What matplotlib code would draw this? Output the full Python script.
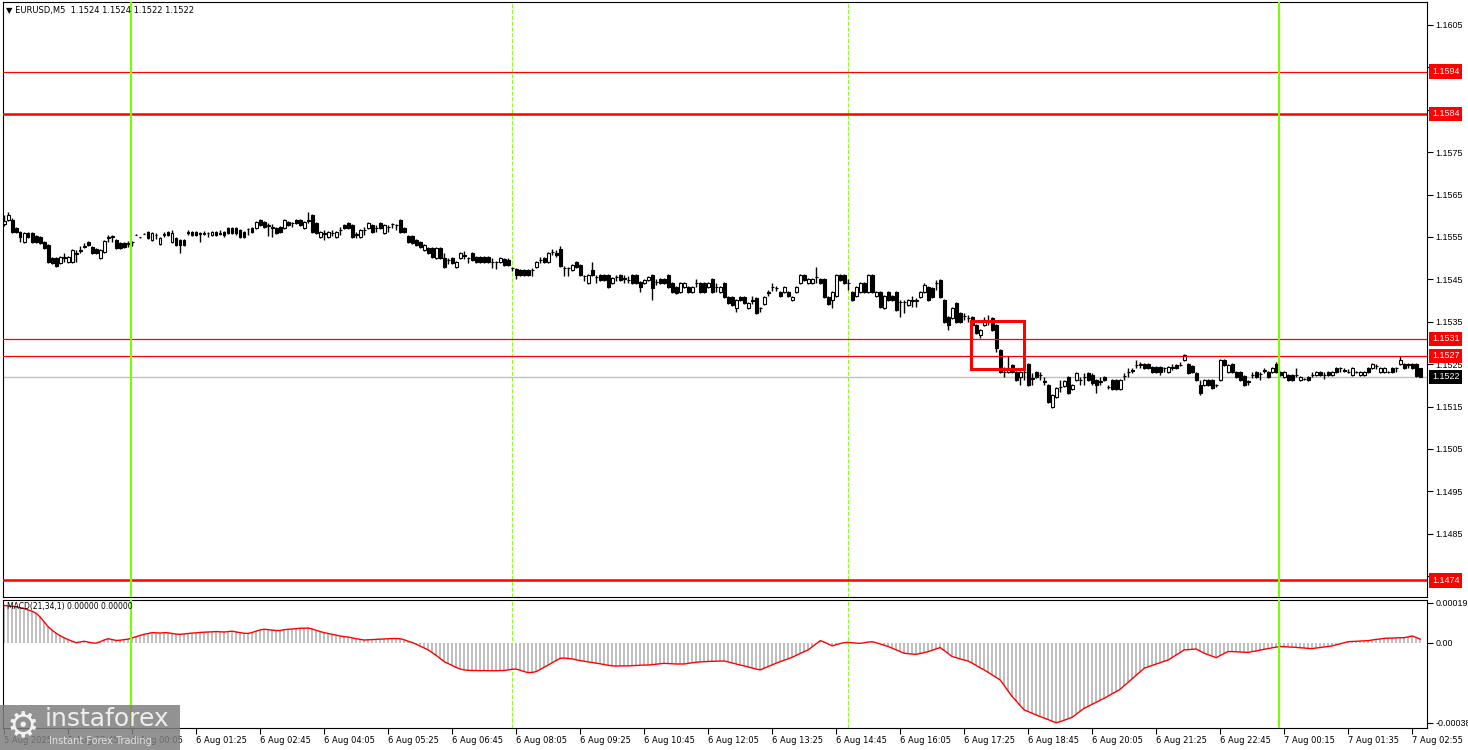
import numpy as np
import matplotlib.pyplot as plt
from matplotlib.patches import Rectangle

# EURUSD M5 bars, prices as pips above 1.1500
open_pips = [
    58.1, 59.0, 59.0, 57.1, 56.2, 53.8, 56.0, 56.0, 55.2, 55.0,
    53.8, 53.1, 50.1, 50.1, 48.9, 50.1, 49.2, 49.2, 51.2, 51.7,
    52.6, 53.8, 52.6, 52.2, 50.1, 51.5, 54.8, 55.0, 54.3, 53.6,
    53.6, 53.4, 53.8, 55.5, 54.9, 55.8, 56.2, 54.3, 55.5, 53.4,
    55.5, 56.2, 53.8, 54.8, 54.3, 54.3, 56.0, 56.2, 56.2, 56.0,
    55.8, 56.0, 55.5, 56.2, 55.8, 56.2, 57.1, 57.1, 57.1, 56.7,
    56.2, 56.9, 57.1, 57.1, 59.0, 58.5, 57.6, 57.4, 57.1, 57.4,
    57.1, 58.5, 58.3, 59.0, 59.0, 57.1, 58.8, 60.2, 58.3, 55.0,
    56.0, 55.0, 56.0, 55.0, 56.7, 57.8, 58.3, 57.8, 55.5, 55.0,
    56.7, 57.1, 57.8, 57.1, 58.3, 56.0, 57.4, 58.1, 57.8, 59.0,
    57.1, 55.2, 55.2, 54.3, 53.8, 51.9, 52.4, 52.4, 50.1, 52.4,
    50.1, 49.6, 50.1, 48.0, 50.1, 50.8, 50.1, 51.2, 50.3, 50.3,
    50.3, 50.3, 49.2, 49.2, 49.2, 49.8, 49.6, 47.7, 47.5, 47.2,
    47.2, 47.2, 47.2, 48.0, 49.6, 50.1, 49.2, 51.5, 51.2, 52.2,
    47.7, 47.7, 47.2, 49.2, 48.4, 45.8, 44.2, 47.2, 45.6, 46.0,
    46.0, 46.0, 44.2, 45.6, 46.0, 45.3, 44.9, 46.0, 46.0, 44.4,
    44.2, 44.9, 46.0, 44.4, 45.1, 45.1, 46.0, 44.2, 43.2, 42.0,
    43.2, 43.2, 42.0, 44.2, 44.2, 44.2, 43.2, 45.1, 43.2, 42.0,
    44.2, 40.8, 40.8, 38.3, 40.8, 40.8, 38.3, 40.1, 40.6, 38.3,
    39.2, 42.0, 43.2, 43.0, 42.0, 42.0, 42.0, 40.1, 42.0, 44.2,
    46.0, 44.2, 44.2, 45.6, 45.1, 45.1, 40.8, 40.1, 41.1, 46.0,
    46.0, 44.2, 42.0, 41.1, 42.0, 44.2, 42.0, 46.0, 41.1, 42.0,
    38.3, 42.0, 41.1, 42.0, 39.7, 39.7, 39.0, 40.1, 40.1, 40.8,
    42.0, 43.2, 43.0, 44.2, 44.9, 40.1, 36.1, 35.9, 39.4, 37.1,
    36.4, 35.9, 36.1, 34.2, 31.9, 34.2, 35.4, 35.9, 34.2, 28.3,
    23.2, 23.2, 24.8, 23.2, 22.0, 23.2, 25.0, 21.7, 23.2, 22.5,
    21.0, 20.1, 14.9, 17.3, 19.7, 19.9, 22.0, 19.2, 21.3, 21.3,
    22.0, 22.9, 22.5, 21.3, 21.0, 22.0, 19.7, 21.3, 21.3, 19.2,
    22.2, 23.2, 23.6, 24.8, 24.8, 25.0, 25.0, 24.3, 24.3, 24.3,
    24.1, 23.2, 24.3, 24.8, 24.8, 26.0, 25.0, 24.6, 22.9, 20.1,
    20.1, 21.3, 21.3, 20.1, 21.3, 26.0, 23.2, 25.0, 23.2, 23.2,
    22.2, 21.0, 22.5, 23.2, 22.7, 23.6, 23.2, 23.2, 25.0, 23.2,
    22.0, 22.5, 22.5, 22.5, 21.3, 21.5, 22.0, 22.5, 22.5, 23.2,
    22.5, 23.2, 22.5, 24.1, 24.1, 23.6, 23.2, 22.5, 23.2, 22.5,
    22.5, 24.1, 24.1, 24.6, 23.2, 23.2, 23.2, 24.1, 24.1, 25.0,
    25.0, 25.0, 25.0, 25.0, 24.0,
]
high_pips = [
    60.2, 60.9, 59.5, 57.4, 56.4, 56.2, 56.2, 56.2, 55.5, 55.2,
    54.1, 53.4, 50.3, 50.3, 50.6, 51.2, 50.6, 52.2, 51.9, 52.9,
    53.6, 54.1, 52.9, 52.4, 52.2, 54.3, 55.5, 55.5, 54.5, 53.8,
    53.8, 54.1, 54.1, 55.6, 55.0, 55.9, 56.4, 56.2, 56.0, 55.0,
    56.2, 56.4, 56.7, 55.0, 54.5, 54.5, 56.7, 56.4, 56.4, 56.2,
    56.4, 56.2, 56.4, 56.4, 56.7, 56.4, 57.4, 57.4, 57.4, 56.9,
    56.4, 57.1, 57.4, 58.8, 59.3, 58.8, 58.3, 58.1, 57.4, 57.6,
    59.3, 58.8, 58.5, 59.3, 59.3, 58.8, 60.9, 60.4, 58.5, 56.4,
    56.7, 56.4, 56.7, 56.4, 57.4, 58.1, 58.5, 58.1, 56.2, 56.9,
    57.4, 58.5, 58.1, 57.8, 58.5, 58.1, 57.8, 58.3, 58.1, 59.3,
    57.4, 55.5, 55.5, 54.5, 54.1, 53.4, 52.6, 52.6, 52.6, 52.6,
    51.2, 50.1, 50.3, 49.4, 51.5, 51.7, 50.3, 51.5, 50.6, 50.6,
    50.6, 50.6, 50.1, 49.4, 50.3, 50.1, 50.1, 48.0, 47.7, 47.5,
    47.5, 47.5, 47.7, 49.4, 50.3, 50.3, 51.5, 52.2, 51.9, 52.9,
    48.2, 48.0, 48.7, 49.4, 48.7, 46.0, 46.2, 49.2, 46.0, 46.2,
    46.2, 46.2, 45.6, 46.0, 46.2, 46.0, 45.8, 46.2, 46.2, 44.7,
    45.1, 45.8, 46.2, 45.1, 45.3, 45.3, 46.2, 44.4, 43.5, 44.4,
    44.4, 43.5, 43.5, 45.1, 44.4, 44.4, 44.4, 45.3, 44.2, 43.5,
    44.4, 41.1, 41.1, 40.4, 41.1, 41.1, 39.7, 41.1, 40.8, 38.5,
    41.1, 42.5, 44.2, 43.5, 42.3, 43.5, 42.3, 41.1, 43.5, 46.2,
    46.2, 45.3, 45.3, 48.0, 45.3, 45.3, 41.1, 42.3, 46.2, 46.2,
    46.2, 45.1, 42.3, 43.5, 44.4, 44.4, 46.2, 46.2, 42.3, 42.3,
    41.3, 42.3, 41.3, 42.3, 40.1, 40.1, 40.4, 41.1, 40.6, 42.3,
    44.2, 43.5, 43.2, 44.9, 45.1, 40.4, 36.4, 38.5, 39.7, 37.3,
    37.1, 36.6, 36.4, 34.4, 33.3, 36.1, 36.6, 36.1, 34.4, 28.5,
    24.3, 26.9, 25.0, 23.4, 23.4, 24.8, 25.2, 22.9, 23.4, 23.2,
    22.0, 20.4, 17.9, 19.7, 21.3, 21.3, 22.3, 20.4, 23.2, 22.0,
    22.9, 23.2, 22.9, 21.5, 22.0, 22.3, 20.1, 21.5, 21.5, 21.5,
    22.9, 24.1, 24.1, 26.0, 25.5, 25.2, 25.2, 24.6, 24.6, 24.6,
    24.3, 24.6, 25.0, 25.0, 25.5, 27.4, 25.2, 24.8, 23.2, 21.3,
    21.5, 21.5, 21.5, 20.4, 26.2, 26.2, 25.0, 25.2, 23.4, 23.4,
    22.5, 21.3, 23.2, 23.4, 23.2, 24.1, 23.4, 24.3, 25.5, 23.4,
    23.4, 22.7, 22.7, 24.1, 22.3, 21.7, 22.3, 23.2, 23.4, 23.4,
    23.2, 23.4, 23.4, 24.3, 24.3, 24.1, 23.8, 24.3, 23.4, 23.4,
    23.4, 24.3, 25.2, 25.0, 24.3, 24.3, 23.4, 24.3, 24.3, 26.9,
    25.2, 25.2, 25.2, 25.2, 24.0,
]
low_pips = [
    57.6, 58.8, 56.0, 56.0, 53.8, 53.6, 54.8, 53.6, 53.6, 53.4,
    52.2, 48.9, 48.7, 48.0, 48.7, 49.2, 48.9, 48.9, 49.2, 51.2,
    52.4, 52.9, 51.0, 51.0, 49.8, 51.2, 53.8, 53.8, 52.2, 52.2,
    52.4, 52.6, 52.9, 55.4, 54.8, 55.7, 54.5, 54.1, 54.5, 53.1,
    55.0, 55.2, 53.6, 52.9, 51.2, 52.9, 55.5, 55.2, 55.2, 53.8,
    55.5, 55.0, 55.2, 55.2, 55.5, 55.0, 55.8, 55.8, 55.5, 54.8,
    54.8, 55.5, 56.0, 56.9, 57.6, 57.1, 55.2, 55.0, 55.8, 56.0,
    56.9, 57.6, 57.4, 58.1, 57.6, 56.9, 58.3, 56.0, 55.8, 54.8,
    54.3, 54.8, 55.2, 54.8, 55.5, 56.9, 56.9, 54.8, 54.8, 54.8,
    55.5, 56.9, 56.0, 56.2, 56.9, 55.8, 56.2, 57.1, 56.7, 56.0,
    56.0, 53.6, 53.4, 52.9, 52.4, 51.7, 51.0, 50.1, 49.8, 49.8,
    47.7, 48.7, 48.7, 47.7, 49.8, 49.8, 48.9, 49.4, 48.9, 48.9,
    48.9, 48.9, 47.7, 47.5, 48.9, 48.2, 48.2, 47.0, 45.1, 45.8,
    45.8, 45.8, 45.8, 47.7, 48.9, 48.9, 48.9, 50.8, 50.3, 48.0,
    45.8, 45.8, 47.0, 47.7, 45.8, 44.7, 44.0, 45.8, 44.2, 44.7,
    44.7, 43.0, 44.0, 44.7, 44.7, 44.2, 44.2, 44.0, 44.0, 42.1,
    44.0, 44.7, 40.1, 43.7, 44.0, 44.0, 43.0, 41.8, 41.6, 41.8,
    43.0, 41.8, 41.8, 43.2, 41.8, 41.8, 43.0, 41.8, 42.0, 41.8,
    40.6, 39.2, 38.7, 37.3, 39.9, 39.2, 38.0, 39.2, 36.9, 37.3,
    39.0, 41.1, 42.3, 42.3, 40.8, 41.8, 40.8, 39.9, 41.8, 44.0,
    44.7, 44.0, 44.0, 44.2, 44.0, 40.6, 39.0, 38.3, 40.8, 44.7,
    44.0, 42.5, 39.9, 40.8, 41.8, 41.8, 41.8, 41.8, 40.8, 38.3,
    38.0, 39.9, 39.9, 37.6, 36.1, 37.1, 38.7, 38.5, 38.5, 40.6,
    41.8, 39.9, 40.6, 42.5, 40.6, 34.7, 33.1, 35.6, 34.7, 34.7,
    35.4, 35.0, 34.0, 32.1, 31.2, 34.0, 34.2, 32.9, 27.9, 23.0,
    22.0, 23.0, 23.0, 21.0, 20.1, 21.3, 19.9, 20.1, 21.7, 21.3,
    20.1, 15.9, 14.6, 17.1, 18.4, 19.7, 18.0, 19.0, 21.0, 20.1,
    20.1, 21.0, 20.1, 18.2, 20.1, 21.0, 19.2, 19.0, 19.0, 19.0,
    21.3, 22.0, 22.9, 24.1, 24.1, 23.8, 23.8, 23.0, 23.0, 22.5,
    23.2, 23.0, 23.6, 23.8, 24.6, 25.8, 22.7, 23.0, 21.0, 17.7,
    19.9, 19.9, 19.2, 19.7, 21.0, 24.6, 23.0, 23.0, 21.7, 21.0,
    19.9, 20.1, 21.7, 21.7, 21.3, 22.9, 21.7, 23.0, 23.0, 22.3,
    21.7, 21.0, 21.0, 22.0, 21.0, 21.3, 21.0, 22.0, 22.3, 22.3,
    21.5, 22.3, 22.3, 23.0, 23.2, 23.2, 23.0, 22.3, 23.0, 22.3,
    22.3, 23.0, 23.8, 23.8, 23.0, 23.0, 23.0, 23.0, 23.2, 24.8,
    23.8, 24.1, 23.8, 22.0, 22.0,
]
close_pips = [
    58.8, 60.2, 56.2, 56.2, 55.0, 56.0, 55.0, 53.8, 53.8, 53.6,
    52.4, 49.2, 48.9, 48.2, 50.3, 50.3, 50.3, 51.9, 51.0, 51.9,
    52.9, 53.1, 51.2, 51.2, 51.9, 54.1, 55.0, 55.2, 52.4, 52.4,
    52.6, 53.5, 53.9, 55.5, 54.9, 55.8, 54.8, 56.0, 55.4, 54.8,
    55.8, 55.5, 56.0, 53.1, 53.1, 53.1, 56.2, 55.5, 55.5, 55.8,
    56.0, 55.9, 56.2, 55.5, 56.0, 55.5, 56.0, 56.0, 56.0, 55.0,
    55.0, 56.8, 56.2, 58.5, 57.8, 57.4, 57.8, 57.1, 56.0, 56.2,
    59.0, 57.8, 58.2, 58.3, 57.8, 58.5, 59.0, 56.2, 56.0, 56.2,
    55.8, 56.2, 55.9, 56.2, 56.6, 57.1, 57.1, 55.0, 55.7, 56.7,
    56.6, 58.3, 56.2, 57.0, 57.1, 57.8, 57.3, 58.0, 57.7, 56.2,
    56.2, 53.8, 53.6, 53.1, 52.6, 53.1, 51.2, 50.3, 52.4, 50.1,
    48.0, 49.5, 48.9, 49.2, 51.2, 50.6, 50.0, 49.6, 49.2, 49.2,
    49.2, 49.2, 49.1, 49.1, 50.1, 48.4, 48.4, 47.6, 46.0, 46.0,
    46.0, 46.0, 47.1, 49.2, 49.5, 49.2, 51.2, 51.4, 50.8, 48.2,
    47.6, 47.6, 48.4, 48.0, 46.0, 45.7, 46.0, 46.0, 45.5, 44.9,
    44.9, 43.2, 45.3, 45.5, 44.9, 45.2, 44.8, 44.2, 44.2, 43.2,
    44.9, 45.6, 43.0, 44.3, 44.2, 44.2, 43.2, 42.0, 41.8, 44.2,
    44.2, 42.0, 43.2, 44.1, 42.0, 42.0, 44.2, 42.0, 43.1, 43.2,
    40.8, 39.4, 39.0, 40.1, 40.1, 39.4, 39.4, 40.0, 37.1, 38.2,
    40.8, 41.9, 43.1, 42.9, 41.1, 43.2, 41.1, 40.8, 43.2, 46.0,
    44.9, 45.1, 45.1, 45.5, 44.2, 40.8, 39.2, 42.0, 46.0, 44.9,
    44.2, 44.1, 40.1, 43.2, 44.2, 42.0, 46.0, 42.0, 42.0, 38.5,
    41.1, 40.1, 40.1, 37.8, 39.6, 39.6, 40.1, 40.0, 40.0, 42.0,
    43.7, 40.1, 40.8, 44.1, 40.8, 35.0, 34.2, 38.3, 35.0, 35.0,
    36.3, 35.8, 34.2, 32.4, 33.1, 35.4, 35.3, 33.1, 28.8, 23.2,
    23.1, 24.1, 23.2, 21.3, 23.2, 23.1, 20.1, 21.6, 22.0, 22.4,
    20.9, 16.1, 17.7, 19.4, 19.6, 21.0, 18.2, 20.1, 22.9, 21.2,
    21.9, 21.3, 20.6, 20.1, 20.9, 21.3, 19.6, 19.2, 19.2, 21.3,
    22.1, 23.1, 23.5, 24.7, 25.0, 24.1, 24.1, 23.2, 23.2, 23.2,
    24.0, 24.3, 24.2, 24.1, 24.7, 27.2, 22.9, 23.2, 21.3, 18.2,
    21.3, 20.1, 19.4, 20.0, 26.0, 24.8, 24.8, 23.2, 22.0, 21.3,
    20.1, 20.9, 22.4, 22.0, 22.6, 23.5, 22.0, 24.1, 23.2, 22.5,
    23.2, 21.3, 21.3, 22.4, 22.0, 21.4, 21.3, 22.4, 23.2, 22.5,
    22.4, 22.5, 23.2, 23.2, 24.0, 23.5, 23.1, 24.1, 23.1, 23.2,
    23.2, 23.2, 25.0, 24.5, 24.1, 24.1, 23.1, 23.2, 24.0, 26.0,
    24.1, 24.9, 24.1, 22.2, 22.0,
]
# MACD(21,34,1) main value per bar, in units of 1e-5
macd_e5 = [
    17.8, 17.6, 17.4, 17.1, 16.8, 16.3, 15.7, 15.0, 14.1, 12.3,
    10.0, 7.7, 6.0, 4.6, 3.4, 2.4, 1.6, 0.8, 0.1, 0.5,
    0.8, 0.4, 0.0, -0.1, 0.6, 1.4, 2.0, 1.6, 1.2, 1.3,
    1.6, 1.8, 2.4, 3.0, 3.6, 4.1, 4.5, 4.9, 4.8, 4.7,
    4.9, 4.8, 4.5, 4.2, 4.1, 4.3, 4.5, 4.7, 4.8, 5.0,
    5.1, 5.2, 5.3, 5.4, 5.3, 5.2, 5.4, 5.6, 5.2, 4.9,
    4.6, 4.5, 5.0, 5.6, 6.2, 6.5, 6.3, 6.1, 5.9, 5.9,
    6.3, 6.5, 6.6, 6.8, 7.0, 7.0, 7.1, 6.6, 6.0, 5.4,
    4.9, 4.5, 4.1, 3.7, 3.3, 3.0, 2.8, 2.4, 2.0, 1.7,
    1.4, 1.5, 1.6, 1.7, 1.8, 1.9, 2.0, 2.1, 2.1, 2.0,
    1.5, 0.8, 0.2, -0.6, -1.5, -2.4, -3.3, -4.6, -5.9, -7.4,
    -8.9, -9.8, -10.7, -11.6, -12.4, -12.8, -13.0, -13.1, -13.1, -13.2,
    -13.1, -13.2, -13.2, -13.2, -13.1, -13.1, -12.8, -12.5, -12.4, -13.0,
    -13.6, -14.1, -14.0, -13.6, -12.6, -11.5, -10.5, -9.4, -8.3, -7.3,
    -7.2, -7.4, -7.6, -8.0, -8.4, -8.7, -9.0, -9.3, -9.6, -9.9,
    -10.3, -10.6, -10.9, -11.0, -10.9, -10.9, -10.9, -10.8, -10.7, -10.6,
    -10.5, -10.5, -10.3, -10.1, -9.9, -9.7, -9.8, -9.9, -10.0, -10.0,
    -10.0, -9.7, -9.4, -9.2, -9.0, -8.9, -8.8, -8.7, -8.7, -8.6,
    -8.6, -9.0, -9.5, -10.0, -10.5, -10.9, -11.4, -11.9, -12.4, -12.8,
    -12.0, -11.2, -10.4, -9.6, -8.9, -8.2, -7.5, -6.8, -5.9, -5.0,
    -4.1, -3.3, -1.8, -0.4, 1.1, 0.4, -0.5, -1.4, -0.8, -0.3,
    0.1, 0.3, 0.1, -0.1, -0.2, 0.1, 0.4, 0.6, 0.1, -0.5,
    -1.1, -1.7, -2.5, -3.3, -4.1, -4.9, -5.1, -5.3, -5.4, -5.0,
    -4.6, -4.1, -3.5, -2.8, -2.2, -3.6, -5.0, -6.5, -7.0, -7.6,
    -8.1, -8.6, -9.6, -10.7, -11.8, -12.8, -14.0, -15.2, -16.4, -17.6,
    -20.2, -22.9, -25.5, -27.6, -29.7, -31.8, -32.6, -33.4, -34.2, -35.0,
    -35.7, -36.4, -37.2, -37.9, -37.4, -36.7, -36.0, -35.3, -33.9, -32.4,
    -31.0, -30.1, -29.1, -28.2, -27.2, -26.3, -25.2, -24.1, -23.1, -22.0,
    -20.3, -18.7, -17.0, -15.3, -13.7, -12.0, -11.3, -10.7, -10.0, -9.4,
    -8.7, -8.1, -6.9, -5.7, -4.5, -3.3, -3.2, -3.0, -2.9, -3.9,
    -4.9, -5.6, -6.3, -7.0, -6.0, -5.0, -4.1, -4.1, -4.2, -4.3,
    -4.4, -4.5, -4.1, -3.8, -3.4, -3.0, -2.7, -2.3, -2.0, -1.7,
    -1.8, -1.9, -2.0, -2.1, -2.3, -2.4, -2.6, -2.7, -2.4, -2.2,
    -1.9, -1.7, -1.4, -0.9, -0.4, 0.1, 0.6, 0.7, 0.8, 0.9,
    1.0, 1.1, 1.4, 1.7, 1.9, 2.2, 2.3, 2.3, 2.4, 2.5,
    2.5, 2.9, 3.3, 2.6, 1.8,
]

time_labels = ["5 Aug 2025", "5 Aug 22:45", "6 Aug 00:05", "6 Aug 01:25", "6 Aug 02:45",
               "6 Aug 04:05", "6 Aug 05:25", "6 Aug 06:45", "6 Aug 08:05", "6 Aug 09:25",
               "6 Aug 10:45", "6 Aug 12:05", "6 Aug 13:25", "6 Aug 14:45", "6 Aug 16:05",
               "6 Aug 17:25", "6 Aug 18:45", "6 Aug 20:05", "6 Aug 21:25", "6 Aug 22:45",
               "7 Aug 00:15", "7 Aug 01:35", "7 Aug 02:55"]
label_step = 16  # one time label every 16 bars

# horizontal levels (price, colour, width)
levels = [(1.1594, 'red', 0.9), (1.1584, 'red', 1.8), (1.1531, 'red', 0.9),
          (1.1527, 'red', 0.9), (1.1474, 'red', 1.8)]
day_lines = [31.7, 318.7]         # bar positions of the green day separators
session_lines = [126.95, 210.95]  # dashed separators
signal_box = (241.7, 254.95, 1.15239, 1.15352)

n = min(len(open_pips), len(high_pips), len(low_pips), len(close_pips), len(macd_e5))
o = np.array(open_pips[:n]) / 1e4 + 1.15
h = np.array(high_pips[:n]) / 1e4 + 1.15
l = np.array(low_pips[:n]) / 1e4 + 1.15
c = np.array(close_pips[:n]) / 1e4 + 1.15
macd = np.array(macd_e5[:n]) * 1e-5
x = np.arange(n)

W, H = 1468, 750
fig = plt.figure(figsize=(W / 100, H / 100), dpi=100)
plt.rcParams['font.family'] = ['DejaVu Sans']
scale_font = dict(family='Liberation Sans', size=6.4)


def box(left, top, right, bottom):
    return [left / W, 1 - bottom / H, (right - left) / W, (bottom - top) / H]


ax = fig.add_axes(box(3, 2, 1427, 597))
axm = fig.add_axes(box(3, 600, 1427, 728))

# candles
up = c >= o
ax.vlines(x, l, h, color='black', lw=1, zorder=2)
lo = np.minimum(o, c)
ht = np.abs(c - o)
ax.bar(x[up], ht[up], bottom=lo[up], width=0.65, color='white', edgecolor='black', lw=0.8, zorder=3)
ax.bar(x[~up], ht[~up], bottom=lo[~up], width=0.65, color='black', edgecolor='black', lw=0.8, zorder=3)

for price, col, lw in levels:
    ax.axhline(price, color=col, lw=lw, zorder=4)
ax.axhline(c[-1], color='#c0c0c0', lw=1, zorder=1)

bx0, bx1, by0, by1 = signal_box
ax.add_patch(Rectangle((bx0, by0), bx1 - bx0, by1 - by0, fill=False, ec='red', lw=2.2, zorder=6))

ax.set_xlim(-0.3, 355.7)
ax.set_ylim(1.14701, 1.16104)
ax.set_xticks([])
ax.yaxis.tick_right()
yt = np.arange(1.1475, 1.16051, 0.001)
ax.set_yticks(yt)
ax.set_yticklabels([f"{v:.4f}" for v in yt], fontdict=scale_font)
ax.tick_params(axis='y', direction='out', length=4, width=0.8, pad=2)

# price label boxes on the right scale
for price, col, lw in levels:
    ax.text(1.0035, price, f"{price:.4f}", transform=ax.get_yaxis_transform(), ha='left', va='center',
            color='white', zorder=10, clip_on=False, **scale_font,
            bbox=dict(boxstyle='square,pad=0.3', fc='red', ec='none'))
ax.text(1.0035, c[-1], f"{c[-1]:.4f}", transform=ax.get_yaxis_transform(), ha='left', va='center',
        color='white', zorder=10, clip_on=False, **scale_font,
        bbox=dict(boxstyle='square,pad=0.3', fc='black', ec='none'))

# MACD pane
axm.bar(x, macd, width=0.45, color='#c0c0c0', zorder=2)
axm.plot(x, macd, color='red', lw=1, zorder=3)
axm.set_xlim(-0.3, 355.7)
axm.set_ylim(-0.000404, 0.000204)
axm.yaxis.tick_right()
axm.set_yticks([0.00019, 0.0, -0.00038])
axm.set_yticklabels(['0.00019', '0.00', '-0.00038'], fontdict=scale_font)
axm.tick_params(axis='y', direction='out', length=4, width=0.8, pad=2)
tick_pos = [k * label_step for k in range(len(time_labels))]
axm.set_xticks(tick_pos)
axm.set_xticklabels(time_labels)
for lab in axm.get_xticklabels():
    lab.set_ha('left')
axm.tick_params(axis='x', direction='out', length=4, width=0.8, labelsize=6, pad=2)

for a in (ax, axm):
    for xv in day_lines:
        a.axvline(xv, color='#7cfc00', lw=1.5, zorder=5)
    for xv in session_lines:
        a.axvline(xv, color='#7cfc00', lw=0.6, ls=(0, (5, 2)), zorder=1)
    for s in a.spines.values():
        s.set_color('black')
        s.set_linewidth(0.8)

fig.text(6 / W, 1 - 10 / H, f"\u25bc EURUSD,M5  {o[-1]:.4f} {h[-1]:.4f} {l[-1]:.4f} {c[-1]:.4f}",
         fontsize=6, va='center', ha='left')
fig.text(7 / W, 1 - 607 / H, "MACD(21,34,1) 0.00000 0.00000", fontsize=5.5, va='center', ha='left')

# watermark
fig.patches.append(Rectangle((0, 0), 180 / W, 45 / H, transform=fig.transFigure,
                             fc='#7f7f7f', alpha=0.85, ec='none', zorder=20))
fig.text(23 / W, 1 - 726 / H, "\u2699", fontsize=26, color='#f2f2f2', ha='center', va='center', zorder=21)
fig.text(45 / W, 1 - 719 / H, "instaforex", fontsize=18, color='#eeeeee', ha='left', va='center', zorder=21)
fig.text(49 / W, 1 - 741 / H, "Instant Forex Trading", fontsize=7, color='#e0e0e0', ha='left', va='center', zorder=21)

fig.savefig('out.png', dpi=100)
